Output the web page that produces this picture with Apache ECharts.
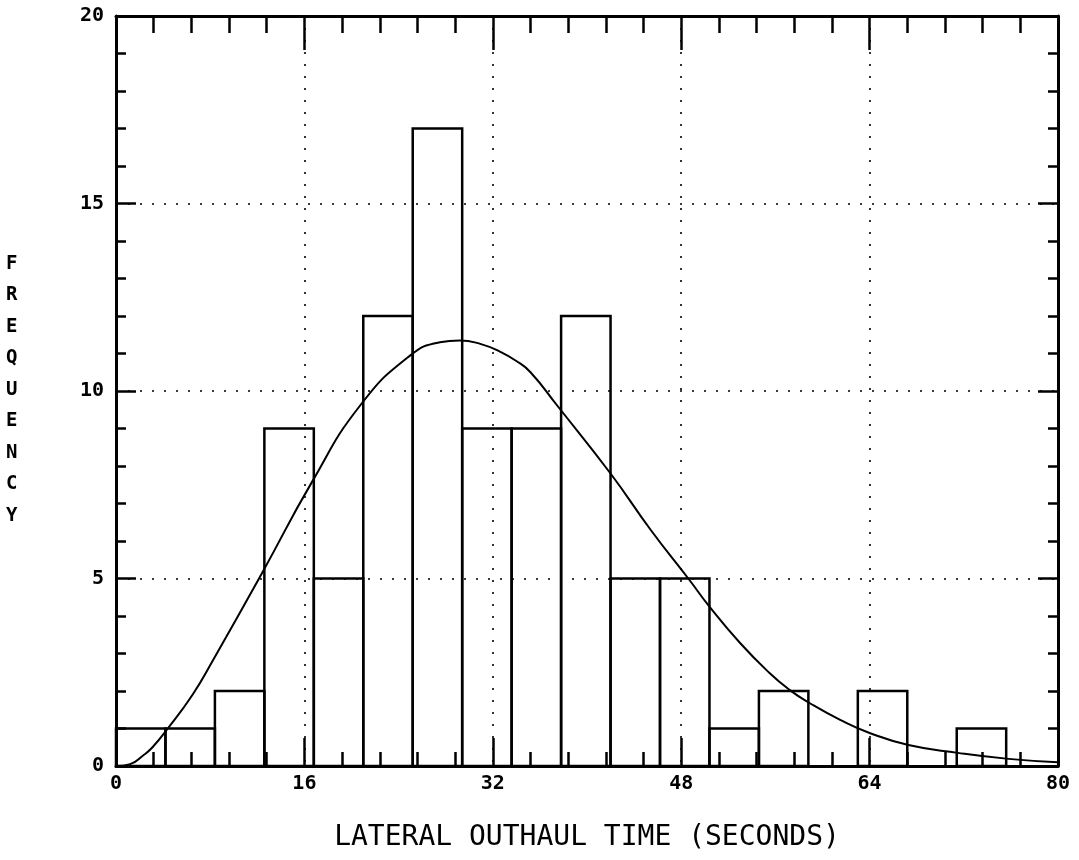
<!DOCTYPE html>
<html>
<head>
<meta charset="utf-8">
<script src="https://cdn.jsdelivr.net/npm/echarts@6/dist/echarts.min.js"></script>
<style>
    html, body { margin: 0; padding: 0; background: #fff; }
    #hist { width: 1079px; height: 860px; }
</style>
</head>
<body>
<div id="hist"></div>
<script>
// histogram bins (seconds) and counts
let binEdges = [0, 4.2, 8.4, 12.6, 16.8, 21, 25.2, 29.4, 33.6, 37.8, 42, 46.2, 50.4, 54.6, 58.8, 63, 67.2, 71.4, 75.6];
let counts = [1, 1, 2, 9, 5, 12, 17, 9, 9, 12, 5, 5, 1, 2, 0, 2, 0, 1];

// fitted curve
let curveX = [0, 1.2, 2.3, 3.1, 4.4, 6.5, 8.2, 12.5, 16.6, 20.7, 25, 27.5, 29.2, 31, 32.6, 34, 35.2, 37.5, 42, 45.4, 48.7, 50.4, 53, 55.5, 57.2, 58.9, 61.5, 64, 67.3, 71.5, 75.8, 80];
let curveY = [0, 0.05, 0.28, 0.5, 1.0, 1.9, 2.8, 5.2, 7.55, 9.6, 10.95, 11.3, 11.35, 11.25, 11.05, 10.8, 10.5, 9.6, 7.8, 6.3, 4.96, 4.25, 3.28, 2.48, 2.03, 1.68, 1.23, 0.88, 0.56, 0.35, 0.19, 0.1];

let xTicks = [0, 80, 16];   // min, max, interval
let yTicks = [0, 20, 5];

function showHist() {
    let myChart = echarts.init(document.getElementById('hist'));

    let barData = [];
    for (let i = 0; i < counts.length; i++) {
        barData.push([binEdges[i], binEdges[i + 1], counts[i]]);
    }
    let lineData = [];
    for (let i = 0; i < curveX.length; i++) {
        lineData.push([curveX[i], curveY[i]]);
    }

    let font = 'DejaVu Sans Mono';
    let dotted = {show: true, lineStyle: {color: '#000', width: 1.6, type: [2, 10]}};

    let option = {
        backgroundColor: '#fff',
        animation: false,
        grid: {left: 116, right: 21, top: 16, bottom: 94},
        xAxis: [
            {
                type: 'value', position: 'bottom',
                min: xTicks[0], max: xTicks[1], interval: xTicks[2],
                axisLine: {onZero: false, lineStyle: {color: '#000', width: 3}},
                axisTick: {inside: true, length: 28, lineStyle: {color: '#000', width: 2.5}},
                minorTick: {show: true, splitNumber: 5, length: 14, lineStyle: {color: '#000', width: 2.5}},
                axisLabel: {color: '#000', fontFamily: font, fontWeight: 'bold', fontSize: 20, margin: 8},
                splitLine: dotted,
                name: 'LATERAL OUTHAUL TIME (SECONDS)',
                nameLocation: 'middle',
                nameGap: 58,
                nameTextStyle: {color: '#000', fontFamily: font, fontSize: 28}
            },
            {
                type: 'value', position: 'top',
                min: xTicks[0], max: xTicks[1], interval: xTicks[2],
                axisLine: {show: true, onZero: false, lineStyle: {color: '#000', width: 3}},
                axisTick: {show: true, inside: true, length: 34, lineStyle: {color: '#000', width: 2.5}},
                minorTick: {show: true, splitNumber: 5, length: 17, lineStyle: {color: '#000', width: 2.5}},
                axisLabel: {show: false},
                splitLine: {show: false}
            }
        ],
        yAxis: [
            {
                type: 'value', position: 'left',
                min: yTicks[0], max: yTicks[1], interval: yTicks[2],
                axisLine: {show: true, onZero: false, lineStyle: {color: '#000', width: 3}},
                axisTick: {show: true, inside: true, length: 20, lineStyle: {color: '#000', width: 2.5}},
                minorTick: {show: true, splitNumber: 5, length: 10, lineStyle: {color: '#000', width: 2.5}},
                axisLabel: {color: '#000', fontFamily: font, fontWeight: 'bold', fontSize: 20, margin: 12},
                splitLine: dotted
            },
            {
                type: 'value', position: 'right',
                min: yTicks[0], max: yTicks[1], interval: yTicks[2],
                axisLine: {show: true, onZero: false, lineStyle: {color: '#000', width: 3}},
                axisTick: {show: true, inside: true, length: 20, lineStyle: {color: '#000', width: 2.5}},
                minorTick: {show: true, splitNumber: 5, length: 10, lineStyle: {color: '#000', width: 2.5}},
                axisLabel: {show: false},
                splitLine: {show: false}
            }
        ],
        graphic: [
            {
                type: 'text',
                left: 6, top: 248,
                style: {
                    text: 'F\nR\nE\nQ\nU\nE\nN\nC\nY',
                    fill: '#000',
                    font: 'bold 19px "DejaVu Sans Mono"',
                    lineHeight: 31.5,
                    align: 'center'
                }
            }
        ],
        series: [
            {
                type: 'custom',
                name: 'freq',
                xAxisIndex: 0,
                yAxisIndex: 0,
                data: barData,
                renderItem: function (params, api) {
                    if (api.value(2) === 0) {
                        return null;
                    }
                    let p0 = api.coord([api.value(0), 0]);
                    let p1 = api.coord([api.value(1), api.value(2)]);
                    return {
                        type: 'rect',
                        shape: {x: p0[0], y: p1[1], width: p1[0] - p0[0], height: p0[1] - p1[1]},
                        style: {fill: 'none', stroke: '#000', lineWidth: 2.5}
                    };
                },
                z: 3
            },
            {
                type: 'line',
                name: 'fit',
                xAxisIndex: 0,
                yAxisIndex: 0,
                data: lineData,
                smooth: 0.5,
                showSymbol: false,
                lineStyle: {color: '#000', width: 2},
                z: 4
            }
        ]
    };
    myChart.setOption(option);
}

showHist();
</script>
</body>
</html>
